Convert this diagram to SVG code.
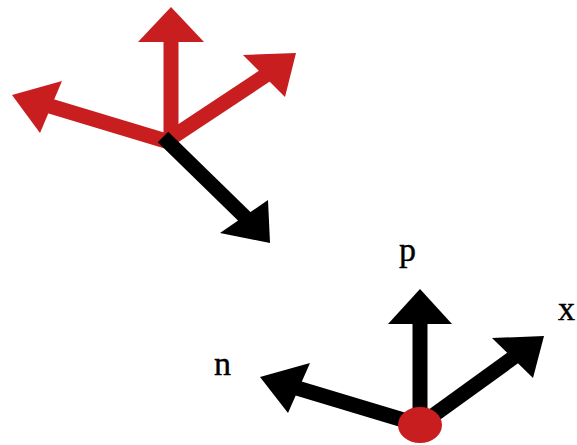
<svg xmlns="http://www.w3.org/2000/svg" width="577" height="445" viewBox="0 0 577 445">
<style>
.r{stroke:#c91e20;fill:none;stroke-width:15}
.rh{fill:#c91e20}
.k{stroke:#000;fill:none;stroke-width:15}
.kh{fill:#000}
.lbl{font-family:"Liberation Serif",serif;font-size:34px;fill:#000;stroke:#000;stroke-width:0.4}
</style>
<rect width="577" height="445" fill="#fff"/>
<g id="frame-top">
<g id="top-up"><line class="r" x1="171" y1="140" x2="171" y2="40"/><polygon class="rh" points="171,7 204,42 138,42"/></g>
<g id="top-right"><line class="r" x1="168" y1="140" x2="266" y2="75"/><polygon class="rh" points="296,53 243,55 285,97"/></g>
<g id="top-left"><line class="r" x1="166" y1="141" x2="50" y2="106"/><polygon class="rh" points="12,95 62,81 40,133"/></g>
<g id="top-down"><line class="k" x1="163" y1="137" x2="246" y2="218" stroke-linecap="butt"/><polygon class="kh" points="270,243 268,200 220,233"/></g>
</g>
<g id="frame-bottom">
<g id="p-arrow"><line class="k" x1="420" y1="425" x2="420" y2="322" stroke-width="16"/><polygon class="kh" points="420,289 452,324 388,324"/></g>
<g id="x-arrow"><line class="k" x1="420" y1="425" x2="514" y2="357"/><polygon class="kh" points="544,336 492,338 533,378"/></g>
<g id="n-arrow"><line class="k" x1="420" y1="425" x2="297" y2="388"/><polygon class="kh" points="260,377 310,363 288,413"/></g>
<ellipse id="origin" cx="420" cy="425" rx="22" ry="18" fill="#c91e20"/>
</g>
<g id="labels">
<text class="lbl" x="214" y="375">n</text>
<text class="lbl" x="399" y="261">p</text>
<text class="lbl" x="558" y="320">x</text>
</g>
</svg>
